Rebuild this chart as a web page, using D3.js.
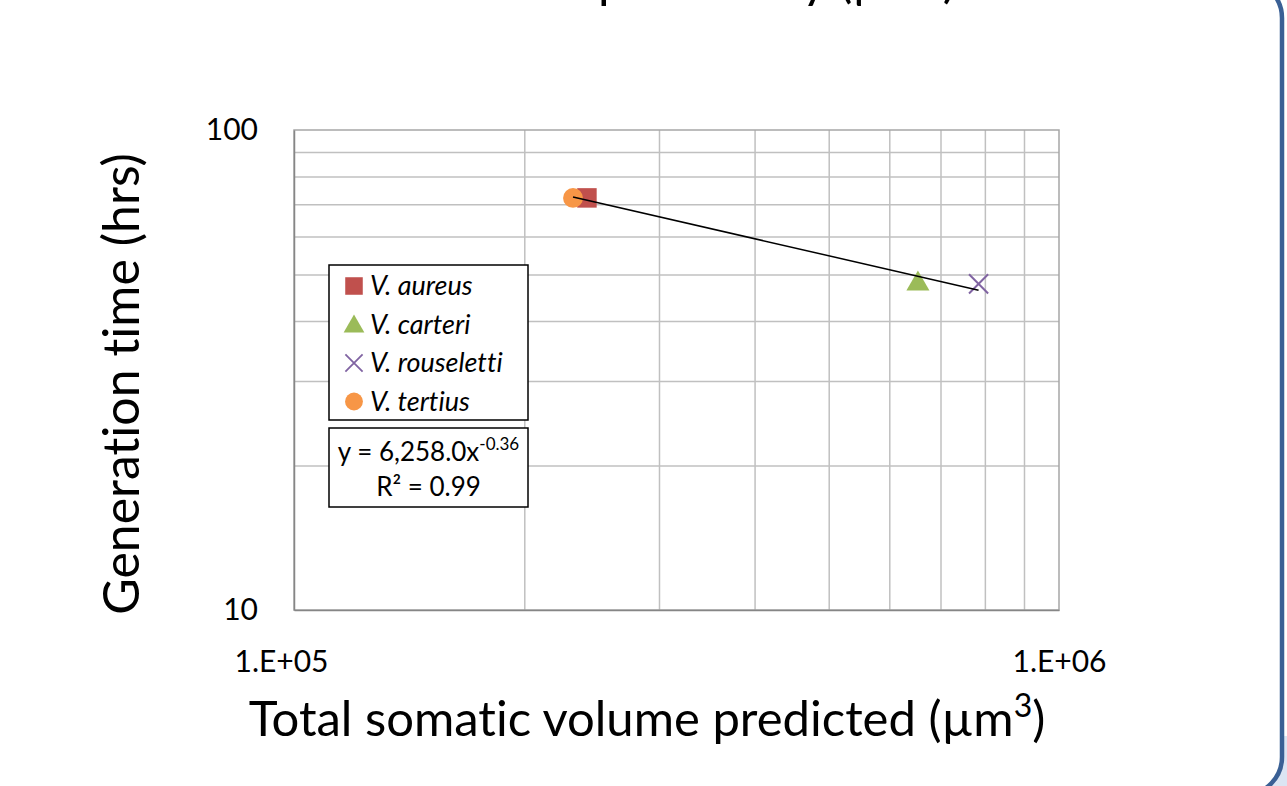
<!DOCTYPE html>
<html lang="en">
  <head>
    <meta charset="UTF-8" />
    <title>Generation time vs somatic volume</title>
    <script src="https://cdn.jsdelivr.net/npm/d3@7/dist/d3.min.js"></script>
    <style>
      body { margin: 0; background: #fff; }
      svg { display: block; font-family: Lato, 'Open Sans', sans-serif; font-variant-ligatures: none; }
    </style>
  </head>
  <body>
    <svg class="svg" width="1287" height="786"></svg>
    <script>
      // data
      const species = ['V. aureus', 'V. carteri', 'V. rouseletti', 'V. tertius'];
      const volume = [2.415e5, 6.54e5, 7.85e5, 2.316e5];
      const genTime = [72.2, 47.8, 47.8, 72.2];
      const colors = ['#C0504D', '#9BBB59', '#8064A2', '#F79646'];
      const shapes = ['square', 'triangle', 'cross', 'circle'];
      const xTicks = [1e5, 1e6];
      const xTickLabels = ['1.E+05', '1.E+06'];
      const yTicks = [10, 100];
      const xGrid = [2e5, 3e5, 4e5, 5e5, 6e5, 7e5, 8e5, 9e5];
      const yGrid = [20, 30, 40, 50, 60, 70, 80, 90];
      const eqText = ['y = 6,258.0x', '-0.36'];
      const r2Text = 'R² = 0.99';

      const svg = d3.select('.svg');
      const plotLeft = 294, plotTop = 130, w = 765, h = 480;

      // slide frame
      svg.append('rect').attr('x', 1238).attr('y', 736).attr('width', 60).attr('height', 60)
        .attr('fill', '#dbe5f3');
      svg.append('rect')
        .attr('x', -20).attr('y', -20).attr('width', 1302).attr('height', 815)
        .attr('rx', 38).attr('ry', 38)
        .attr('fill', '#fff').attr('stroke', '#3a6095').attr('stroke-width', 4.5);

      // title (cut off at top of the picture)
      svg.append('text')
        .attr('x', 956).attr('y', -3)
        .attr('text-anchor', 'end')
        .attr('font-size', 50)
        .text('Somatic volume per colony (µm³)');

      const x = d3.scaleLog().domain([1e5, 1e6]).range([0, w]);
      const y = d3.scaleLog().domain([10, 100]).range([h, 0]);

      const g = svg.append('g').attr('transform', `translate(${plotLeft},${plotTop})`);

      // gridlines
      g.append('g')
        .call(d3.axisBottom(x).tickValues(xGrid).tickSize(h).tickFormat(''))
        .call(s => s.select('.domain').remove())
        .selectAll('line').attr('stroke', '#c0c0c0').attr('stroke-width', 1.5);
      g.append('g')
        .call(d3.axisLeft(y).tickValues(yGrid).tickSize(-w).tickFormat(''))
        .call(s => s.select('.domain').remove())
        .selectAll('line').attr('stroke', '#c0c0c0').attr('stroke-width', 1.5);

      // plot border
      g.append('rect').attr('width', w).attr('height', h)
        .attr('fill', 'none').attr('stroke', '#a6a6a6').attr('stroke-width', 1.5);

      // axes
      const xAxis = g.append('g')
        .attr('transform', `translate(0,${h})`)
        .call(d3.axisBottom(x).tickValues(xTicks).tickSize(0).tickPadding(41)
          .tickFormat((d, i) => xTickLabels[i]));
      xAxis.select('.domain').attr('stroke', '#868686').attr('stroke-width', 1.5);
      xAxis.selectAll('text').attr('font-size', 30).attr('fill', '#000')
        .attr('font-family', 'Lato, sans-serif')
        .attr('dx', (d, i) => i === 0 ? -13 : 0);

      const yAxis = g.append('g')
        .call(d3.axisLeft(y).tickValues(yTicks).tickSize(0).tickPadding(36)
          .tickFormat(d3.format('d')));
      yAxis.select('.domain').attr('stroke', '#868686').attr('stroke-width', 1.5);
      yAxis.selectAll('text').attr('font-size', 30).attr('fill', '#000')
        .attr('font-family', 'Lato, sans-serif');

      // axis titles
      svg.append('text')
        .attr('x', 647).attr('y', 736)
        .attr('text-anchor', 'middle')
        .attr('font-size', 49)
        .html('Total somatic volume predicted (µm<tspan dy="-19" font-size="32">3</tspan><tspan dy="19">)</tspan>');
      svg.append('text')
        .attr('transform', 'translate(139,384) rotate(-90)')
        .attr('text-anchor', 'middle')
        .attr('font-size', 50)
        .text('Generation time (hrs)');

      // markers
      const symbolFor = {
        square: d3.symbol(d3.symbolSquare, 380),
        triangle: d3.symbol(d3.symbolTriangle, 230),
        cross: d3.symbol(d3.symbolX, 240),
        circle: d3.symbol(d3.symbolCircle, 310),
      };
      function drawMarker(sel, i) {
        const p = sel.append('path').attr('d', symbolFor[shapes[i]]());
        if (shapes[i] === 'cross') {
          p.attr('fill', 'none').attr('stroke', colors[i]).attr('stroke-width', 2);
        } else {
          p.attr('fill', colors[i]);
        }
        return p;
      }
      species.forEach((s, i) => {
        const m = g.append('g')
          .attr('transform', `translate(${x(volume[i])},${y(genTime[i])})`);
        drawMarker(m, i);
      });

      // power trendline (least squares in log-log space)
      const lx = volume.map(Math.log10), ly = genTime.map(Math.log10);
      const mx = d3.mean(lx), my = d3.mean(ly);
      const slope = d3.sum(lx, (v, i) => (v - mx) * (ly[i] - my)) / d3.sum(lx, v => (v - mx) ** 2);
      const fit = v => Math.pow(10, my + slope * (Math.log10(v) - mx));
      const ext = d3.extent(volume);
      g.append('path')
        .datum(ext)
        .attr('d', d3.line().x(d => x(d)).y(d => y(fit(d))))
        .attr('stroke', '#000').attr('stroke-width', 1.5).attr('fill', 'none');

      // legend
      const lg = svg.append('g').attr('transform', 'translate(329,265)');
      lg.append('rect').attr('width', 199).attr('height', 155)
        .attr('fill', '#fff').attr('stroke', '#000').attr('stroke-width', 1.5);
      species.forEach((s, i) => {
        const row = lg.append('g').attr('transform', `translate(25,${21 + i * 38.5})`);
        const m = row.append('g').attr('transform', i === 1 ? 'translate(0,2) scale(0.9)' : 'scale(0.9)');
        drawMarker(m, i);
        row.append('text').attr('x', 16).attr('y', 9)
          .attr('font-size', 27).attr('font-style', 'italic')
          .text(s);
      });

      // equation box
      const eb = svg.append('g').attr('transform', 'translate(329,428)');
      eb.append('rect').attr('width', 199).attr('height', 79)
        .attr('fill', '#fff').attr('stroke', '#000').attr('stroke-width', 1.5);
      eb.append('text').attr('x', 99.5).attr('y', 33).attr('text-anchor', 'middle')
        .attr('font-size', 26)
        .html(`${eqText[0]}<tspan dy="-11" font-size="17">${eqText[1]}</tspan>`);
      eb.append('text').attr('x', 99.5).attr('y', 68).attr('text-anchor', 'middle')
        .attr('font-size', 26)
        .text(r2Text);
    </script>
  </body>
</html>
